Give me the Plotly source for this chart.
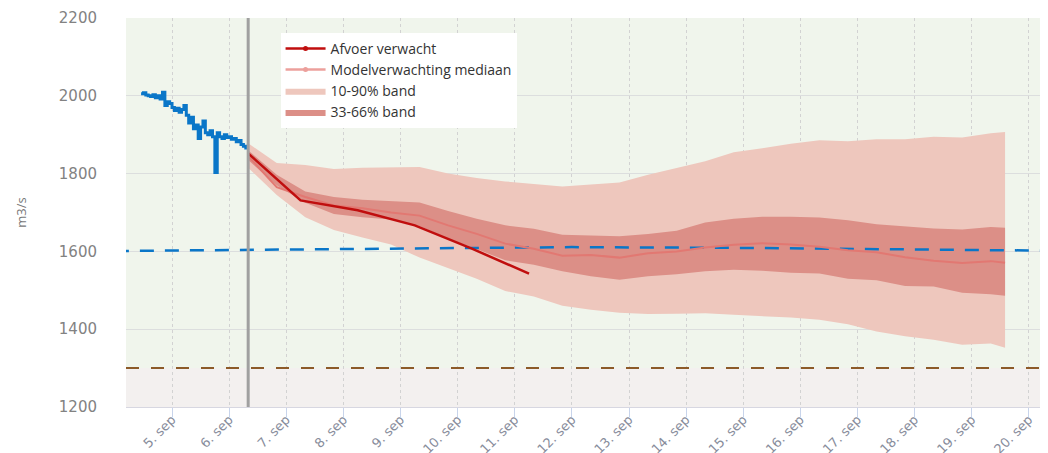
import plotly.graph_objects as go
from datetime import datetime, timedelta

# ---------------- data ----------------
obs_start = "2023-09-04 11:00"
obs_values = [2005, 2008, 2002, 2000, 1998, 2003, 1995, 2000, 1992, 2009, 1975, 1985, 1980,
              1970, 1962, 1968, 1958, 1965, 1975, 1950, 1930, 1945, 1915, 1925, 1890, 1920,
              1935, 1905, 1900, 1910, 1895, 1803, 1905, 1895, 1890, 1900, 1893, 1895, 1888,
              1890, 1882, 1885, 1875, 1870, 1862]

fc_times = ["2023-09-06 08:00", "2023-09-07 06:00", "2023-09-08 06:00", "2023-09-09 06:00",
            "2023-09-10 06:00", "2023-09-11 06:00"]
fc_values = [1852, 1731, 1706, 1667, 1607, 1543]

ens_start = "2023-09-06 08:00"
ens_end = "2023-09-19 14:00"
p90 = [1878, 1827, 1822, 1812, 1815, 1816, 1817, 1800, 1789, 1780, 1773, 1767, 1772, 1777,
       1797, 1815, 1832, 1855, 1865, 1877, 1886, 1883, 1888, 1888, 1895, 1893, 1904, 1907]
p10 = [1815, 1745, 1688, 1655, 1636, 1618, 1584, 1558, 1530, 1498, 1484, 1460, 1450, 1442,
       1439, 1440, 1441, 1437, 1434, 1430, 1424, 1413, 1394, 1382, 1373, 1360, 1363, 1352]
p66 = [1860, 1797, 1754, 1740, 1733, 1729, 1726, 1704, 1684, 1667, 1658, 1643, 1641, 1639,
       1645, 1653, 1674, 1684, 1689, 1689, 1687, 1680, 1670, 1665, 1659, 1656, 1663, 1661]
p33 = [1835, 1770, 1725, 1696, 1688, 1682, 1665, 1633, 1606, 1577, 1566, 1549, 1536, 1527,
       1536, 1541, 1549, 1553, 1550, 1545, 1543, 1530, 1526, 1511, 1510, 1494, 1490, 1486]
median = [1845, 1765, 1740, 1718, 1711, 1700, 1692, 1667, 1645, 1620, 1607, 1589, 1591, 1584,
          1595, 1600, 1610, 1617, 1621, 1618, 1612, 1603, 1598, 1585, 1576, 1570, 1575, 1571]

thr_times = ["2023-09-04 00:00", "2023-09-08 00:00", "2023-09-12 00:00", "2023-09-15 00:00",
             "2023-09-18 00:00", "2023-09-21 00:00"]
thr_values = [1601, 1606, 1611, 1609, 1604, 1601]
low_level = 1300
now_time = "2023-09-06 08:00"

tick_dates = ["2023-09-%02d" % d for d in range(5, 21)]
tick_labels = ["%d. sep" % d for d in range(5, 21)]

# ---------------- derived times ----------------
fmt = "%Y-%m-%d %H:%M"
t0 = datetime.strptime(obs_start, fmt)
obs_times = [t0 + timedelta(hours=i) for i in range(len(obs_values))]
e0 = datetime.strptime(ens_start, fmt)
ens_times = [e0 + timedelta(hours=12 * i) for i in range(len(p90) - 1)] + [datetime.strptime(ens_end, fmt)]

x_range = ["2023-09-04 04:40", "2023-09-20 07:12"]

LIGHT = "rgb(238,199,189)"
DARK = "rgb(220,143,135)"
MED = "rgb(226,120,114)"
RED = "rgb(192,14,14)"
BLUE = "rgb(10,118,200)"
BROWN = "rgb(140,90,40)"

fig = go.Figure()

# bands
fig.add_trace(go.Scatter(x=ens_times, y=p10, mode="lines", line=dict(width=0, color=LIGHT),
                         showlegend=False, hoverinfo="skip"))
fig.add_trace(go.Scatter(x=ens_times, y=p90, mode="lines", line=dict(width=0, color=LIGHT),
                         fill="tonexty", fillcolor=LIGHT, name="10-90% band", legendrank=3))
fig.add_trace(go.Scatter(x=ens_times, y=p33, mode="lines", line=dict(width=0, color=DARK),
                         showlegend=False, hoverinfo="skip"))
fig.add_trace(go.Scatter(x=ens_times, y=p66, mode="lines", line=dict(width=0, color=DARK),
                         fill="tonexty", fillcolor=DARK, name="33-66% band", legendrank=4))

# threshold lines
fig.add_trace(go.Scatter(x=thr_times, y=thr_values, mode="lines",
                         line=dict(color=BLUE, width=2.5, dash="14px,11px"), showlegend=False))
fig.add_trace(go.Scatter(x=x_range, y=[low_level, low_level], mode="lines",
                         line=dict(color=BROWN, width=2, dash="13px,12px"), showlegend=False))

# median & forecast
fig.add_trace(go.Scatter(x=ens_times, y=median, mode="lines", line=dict(color=MED, width=2),
                         showlegend=False))
fig.add_trace(go.Scatter(x=fc_times, y=fc_values, mode="lines", line=dict(color=RED, width=2.5),
                         showlegend=False))
# observed
fig.add_trace(go.Scatter(x=obs_times, y=obs_values, mode="lines", line_shape="hv",
                         line=dict(color=BLUE, width=3), showlegend=False))

# legend entries
fig.add_trace(go.Scatter(x=[None], y=[None], mode="lines+markers", name="Afvoer verwacht",
                         line=dict(color=RED, width=2.5), marker=dict(size=5, color=RED), legendrank=1))
fig.add_trace(go.Scatter(x=[None], y=[None], mode="lines+markers", name="Modelverwachting mediaan",
                         line=dict(color="rgb(236,160,156)", width=2.5),
                         marker=dict(size=5, color="rgb(236,160,156)"), legendrank=2))

# backgrounds
fig.add_shape(type="rect", xref="paper", yref="y", x0=0, x1=1, y0=low_level, y1=2200,
              fillcolor="rgb(240,245,236)", line_width=0, layer="below")
fig.add_shape(type="rect", xref="paper", yref="y", x0=0, x1=1, y0=1200, y1=low_level,
              fillcolor="rgb(243,240,239)", line_width=0, layer="below")
# now line
fig.add_shape(type="line", xref="x", yref="paper", x0=now_time, x1=now_time, y0=0, y1=1,
              line=dict(color="rgb(160,160,160)", width=3))

fig.add_annotation(text="m3/s", xref="paper", yref="paper", x=-0.115, y=0.5, textangle=-90,
                   showarrow=False, xanchor="center", yanchor="middle",
                   font=dict(family="Open Sans", size=13, color="rgb(120,120,120)"))

# the page body adds an 8px offset, so the figure is sized/margined to compensate
fig.update_layout(
    width=1040, height=445,
    margin=dict(l=118, r=2, t=10, b=46),
    paper_bgcolor="white", plot_bgcolor="white",
    font=dict(family="Open Sans, sans-serif", color="#333"),
    legend=dict(x=0.168, y=0.962, xanchor="left", yanchor="top", bgcolor="white",
                font=dict(size=14, color="#333"), tracegroupgap=0, itemwidth=40,
                traceorder="normal"),
    xaxis=dict(type="date", range=x_range, tickvals=tick_dates, ticktext=tick_labels,
               tickangle=-45, showgrid=True, gridcolor="rgb(210,210,210)", griddash="dot",
               gridwidth=1, ticks="outside", ticklen=9, tickcolor="rgb(200,212,235)",
               showline=True, linecolor="rgb(215,215,225)", linewidth=1, automargin=False,
               ticklabelstandoff=-10,
               tickfont=dict(family="DejaVu Sans", size=13, color="rgb(135,140,155)"),
               zeroline=False),
    yaxis=dict(range=[1200, 2200], tickvals=[1200, 1400, 1600, 1800, 2000, 2200],
               showgrid=True, gridcolor="rgb(220,222,222)", gridwidth=1, zeroline=False,
               ticks="", ticklabelstandoff=28, automargin=False,
               tickfont=dict(family="DejaVu Sans", size=15, color="rgb(130,130,130)")),
)

fig.write_html("out.html")
